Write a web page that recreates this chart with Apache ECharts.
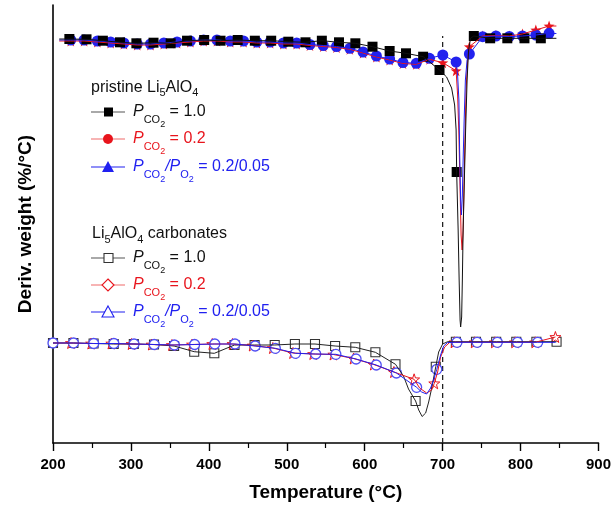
<!DOCTYPE html>
<html>
<head>
<meta charset="utf-8">
<script src="https://cdn.jsdelivr.net/npm/echarts@6/dist/echarts.min.js"></script>
<style>html,body{margin:0;padding:0;background:#fff}#c{width:614px;height:507px}</style>
</head>
<body>
<div id="c"></div>
<script>
// ---------------- DATA (temperature in °C, DTG in arbitrary units, upward = less negative) -------------
// pristine Li5AlO4, P_CO2 = 1.0 (black filled squares)
const pr10_T = [221,243,264,286,307,329,351,372,394,415,437,459,480,502,524,545,567,588,610,632,653,675,696,718,740,761,783,805,826];
const pr10_V = [404,403.7,402.3,400.7,399.7,400.3,399.7,402.3,403,402.3,403,402.3,402.3,401.3,400.7,402.3,400.7,399.7,396.3,392,389.7,386.3,373,271,407,404.7,404.7,404.7,404.7];
const pr10_lineT = [208,705.1,711.5,715.4,717.3,719.9,721.2,722.4,723.1,724.4,725.3,726.3,728.2,729.5,731.4,733.3,735.9,846];
const pr10_lineV = [404,366,355,338,313,213,163,123,116,126,163,213,273,313,363,393,405,404.7];
// pristine Li5AlO4, P_CO2 = 0.2 (red stars)
const pr02_T = [222.8,239.9,256.9,274.0,291.0,308.1,325.1,342.2,359.2,376.3,393.3,410.4,427.4,444.5,461.5,478.6,495.6,512.7,529.7,546.8,563.8,580.9,597.9,615.0,632.0,649.1,666.1,683.2,700.2,717.3,734.3,751.4,768.4,785.5,802.5,819.6,836.6];
const pr02_V = [402,402,401,400,399,398,398,399,400,401,402,402,401,401,400,400,399,399,397.5,396.5,395.5,393.7,390,386,383,379.5,378.7,383.7,380.3,372.3,396.3,407,407.5,407,409,413,417];
const pr02_lineT = [208,719.2,720.9,722.4,723.7,725.0,726.3,727.6,728.9,730.1,732.1,846];
const pr02_lineV = [402,348,308,253,208,193,213,263,313,353,383,417];
// pristine Li5AlO4, P_CO2/P_O2 = 0.2/0.05 (blue filled circles)
const prMix_T = pr02_T.slice();
const prMix_V = [403,403,402,401,400,399,399,400,401,402,403,403,402,402,401,401,400,400,398.5,397.5,396.5,394.7,391,387,384,380.5,379.7,384.7,388,381,389,406.3,407,406.5,407,408,409.7];
const prMix_lineT = [208,719.2,720.9,721.8,723.1,724.1,725.3,726.3,727.6,729.2,731.4,846];
const prMix_lineV = [403,368,343,293,243,228,248,283,323,363,383,409.5];

// Li5AlO4 carbonates, P_CO2 = 1.0 (black open squares)
const cb10_T = [200,226.2,252.1,277.9,303.7,329.6,355.4,381.2,407.0,432.9,458.7,484.5,510.4,536.2,562.0,587.9,613.7,639.5,665.3,691.2,717.0,742.8,768.7,794.5,820.3,846.2];
const cb10_V = [100,100,99.5,99,99,98.5,97,91.3,89.7,98,98,98,99,99,97,95.7,90.7,78.7,42,76.3,101.3,101.3,101.3,101.3,101.3,101.3];
const cb10_lineT = [649.8,656.2,669.3,673.7,678.2,682.1,686.0,694.9,700.0,706.4];
const cb10_lineV = [67,54,33,26.5,30,41,55,91,99,101.3];
// Li5AlO4 carbonates, P_CO2 = 0.2 (red open stars)
const cb02_T = [223.1,249.0,274.9,300.8,326.7,352.6,378.5,404.4,430.3,456.2,482.1,508.0,533.9,559.8,585.7,611.6,637.5,663.4,689.3,715.2,741.1,767.0,792.9,818.8,844.7];
const cb02_V = [100,99.5,99.5,99,98.5,98,98.5,99,99,97.5,95,90,89,88.5,84.5,78.5,71,63.7,59.7,100.7,100.7,100.7,100.7,100.7,106];
const cb02_lineT = [200,670.5,679.5,685.9,693.6,697.4,702.6,709.0];
const cb02_lineV = [100,55,50,53,71,86,96,100.5];
// Li5AlO4 carbonates, P_CO2/P_O2 = 0.2/0.05 (blue open circles)
const cbMix_T = [200,226.3,252.2,278.1,304.0,329.9,355.8,381.7,407.6,433.5,459.4,485.3,511.2,537.1,563.0,588.9,614.8,640.7,666.6,692.5,718.4,744.3,770.2,796.1,822.0];
const cbMix_V = [100,100,99.5,99.5,99,98.5,98,98.5,99,99,97,94.7,89.7,89,88.7,84,78,70,55.7,73.7,100.7,100.7,100.7,100.7,100.7];
const cbMix_lineT = [673.1,679.5,684.6,688.4,697.4,701.3,706.4,845];
const cbMix_lineV = [51,49,55,63,88,97,100.5,100.7];

// 700 °C reference line
const refT = 700;
const refTop = 407;

// axis
const xMin = 200, xMax = 900, xStep = 100;
const yMin = 0, yMax = 438;
// -----------------------------------------------------------------------------------------------

const FAM = '"Liberation Sans", Arial, sans-serif';
const BLACK = '#111111', RED = '#e8141c', BLUE = '#2020f0';
const STAR = 'path://M0,-10L2.35,-3.24L9.51,-3.09L3.8,1.24L5.88,8.09L0,4L-5.88,8.09L-3.8,1.24L-9.51,-3.09L-2.35,-3.24Z';

function pairs(T, V) { return T.map((t, i) => [t, V[i]]); }
function curve(mT, mV, lT, lV) {
  return pairs(mT, mV).concat(pairs(lT, lV)).sort((a, b) => a[0] - b[0]);
}
function lineS(data, color, w) {
  return {type: 'line', data: data, showSymbol: false, symbol: 'none', lineStyle: {color: color, width: w || 1}, silent: true, animation: false};
}
function markS(data, symbol, size, fill, stroke, bw) {
  return {type: 'scatter', data: data, symbol: symbol, symbolSize: size,
    itemStyle: {color: fill, borderColor: stroke, borderWidth: bw || 0, opacity: 1}, silent: true, animation: false};
}

const series = [
  // lower group
  lineS(curve(cb10_T, cb10_V, cb10_lineT, cb10_lineV), '#222'),
  markS(pairs(cb10_T, cb10_V), 'rect', 9, '#fff', '#333', 1.1),
  lineS(curve(cb02_T, cb02_V, cb02_lineT, cb02_lineV), RED),
  markS(pairs(cb02_T, cb02_V), STAR, 11, '#fff', RED, 1),
  lineS(curve(cbMix_T, cbMix_V, cbMix_lineT, cbMix_lineV), BLUE),
  markS(pairs(cbMix_T, cbMix_V), 'circle', 10, '#fff', '#5050f5', 1.3),
  // upper group
  lineS(curve(pr02_T, pr02_V, pr02_lineT, pr02_lineV), RED),
  markS(pairs(pr02_T, pr02_V), STAR, 11, RED, RED, 0),
  lineS(curve(prMix_T, prMix_V, prMix_lineT, prMix_lineV), BLUE),
  markS(pairs(prMix_T, prMix_V), 'circle', 11, '#2222ee', '#2222ee', 0),
  lineS(curve(pr10_T, pr10_V, pr10_lineT, pr10_lineV), '#111'),
  markS(pairs(pr10_T, pr10_V), 'rect', 10, '#000', '#000', 0),
  // dashed 700 °C line
  {type: 'line', data: [[refT, yMin], [refT, refTop]], showSymbol: false, symbol: 'none',
   lineStyle: {color: '#222', width: 1.3, type: [5, 4]}, silent: true, animation: false, z: 1}
];

// ---------- legend built from text runs -------------
const cv = document.createElement('canvas').getContext('2d');
function run(x, yc, parts, color) {
  let cx = x; const els = [];
  for (const p of parts) {
    const font = (p.it ? 'italic ' : '') + p.s + 'px ' + FAM;
    cv.font = font;
    const w = cv.measureText(p.t).width;
    els.push({type: 'text', x: cx, y: yc + (p.dy || 0), silent: true,
      style: {text: p.t, font: font, fill: color, verticalAlign: 'middle', align: 'left'}});
    cx += w;
  }
  return els;
}
const M = 16, S = 11, SS = 9;
const pCO2 = [{t: 'P', s: M, it: true}, {t: 'CO', s: S, dy: 8}, {t: '2', s: SS, dy: 13}];
const pO2 = [{t: '/', s: M, it: true}, {t: 'P', s: M, it: true}, {t: 'O', s: S, dy: 8}, {t: '2', s: SS, dy: 13}];
const rowTexts = [
  pCO2.concat([{t: ' = 1.0', s: M}]),
  pCO2.concat([{t: ' = 0.2', s: M}]),
  pCO2.concat(pO2).concat([{t: ' = 0.2/0.05', s: M}])
];
const rowColors = [BLACK, RED, BLUE];
const lineColors = ['#555', '#f06a6a', BLUE];

function legendBlock(headerParts, hx, hy, rowsY, filled) {
  let els = run(hx, hy, headerParts, BLACK);
  rowsY.forEach((y, i) => {
    els.push({type: 'line', silent: true, shape: {x1: 91, y1: y, x2: 125, y2: y}, style: {stroke: lineColors[i], lineWidth: 1.2}});
    const c = rowColors[i];
    const mc = i === 0 ? '#000' : (i === 1 ? RED : BLUE);
    if (i === 0) {
      els.push({type: 'rect', silent: true, shape: {x: 104, y: y - 4.5, width: 9, height: 9},
        style: filled ? {fill: mc} : {fill: '#fff', stroke: '#333', lineWidth: 1.1}});
    } else if (i === 1) {
      if (filled) els.push({type: 'circle', silent: true, shape: {cx: 108, cy: y, r: 5}, style: {fill: mc}});
      else els.push({type: 'polygon', silent: true, shape: {points: [[108, y - 6], [114, y], [108, y + 6], [102, y]]}, style: {fill: '#fff', stroke: RED, lineWidth: 1.1}});
    } else {
      els.push({type: 'polygon', silent: true, shape: {points: [[108, y - 6], [114, y + 5], [102, y + 5]]},
        style: filled ? {fill: mc} : {fill: '#fff', stroke: BLUE, lineWidth: 1.1}});
    }
    els = els.concat(run(133, y, rowTexts[i], c));
  });
  return els;
}
const hdr1 = [{t: 'pristine Li', s: M}, {t: '5', s: S, dy: 5}, {t: 'AlO', s: M}, {t: '4', s: S, dy: 5}];
const hdr2 = [{t: 'Li', s: M}, {t: '5', s: S, dy: 6}, {t: 'AlO', s: M}, {t: '4', s: S, dy: 6}, {t: ' carbonates', s: M}];
const graphics = legendBlock(hdr1, 91, 88, [112, 139, 167], true)
  .concat(legendBlock(hdr2, 92, 234, [258, 285, 312], false));

const chart = echarts.init(document.getElementById('c'), null, {renderer: 'canvas'});
chart.setOption({
  animation: false,
  backgroundColor: '#fff',
  grid: {left: 53, right: 15, top: 5, bottom: 64, containLabel: false},
  xAxis: {
    type: 'value', min: xMin, max: xMax, interval: xStep,
    name: 'Temperature (°C)', nameLocation: 'middle', nameGap: 40,
    nameTextStyle: {fontFamily: FAM, fontWeight: 'bold', fontSize: 19, color: '#000'},
    axisLine: {show: true, lineStyle: {color: '#000', width: 1.6}},
    axisTick: {show: true, inside: false, length: 8, lineStyle: {color: '#000', width: 1.4}},
    minorTick: {show: true, splitNumber: 2, length: 5, lineStyle: {color: '#000', width: 1.2}},
    axisLabel: {fontFamily: FAM, fontWeight: 'bold', fontSize: 15, color: '#000', margin: 14},
    splitLine: {show: false}
  },
  yAxis: {
    type: 'value', min: yMin, max: yMax,
    name: 'Deriv. weight (%/°C)', nameLocation: 'middle', nameGap: 18,
    nameTextStyle: {fontFamily: FAM, fontWeight: 'bold', fontSize: 19, color: '#000'},
    axisLine: {show: true, lineStyle: {color: '#000', width: 1.6}},
    axisTick: {show: false}, axisLabel: {show: false}, splitLine: {show: false}
  },
  series: series,
  graphic: graphics
});
</script>
</body>
</html>
